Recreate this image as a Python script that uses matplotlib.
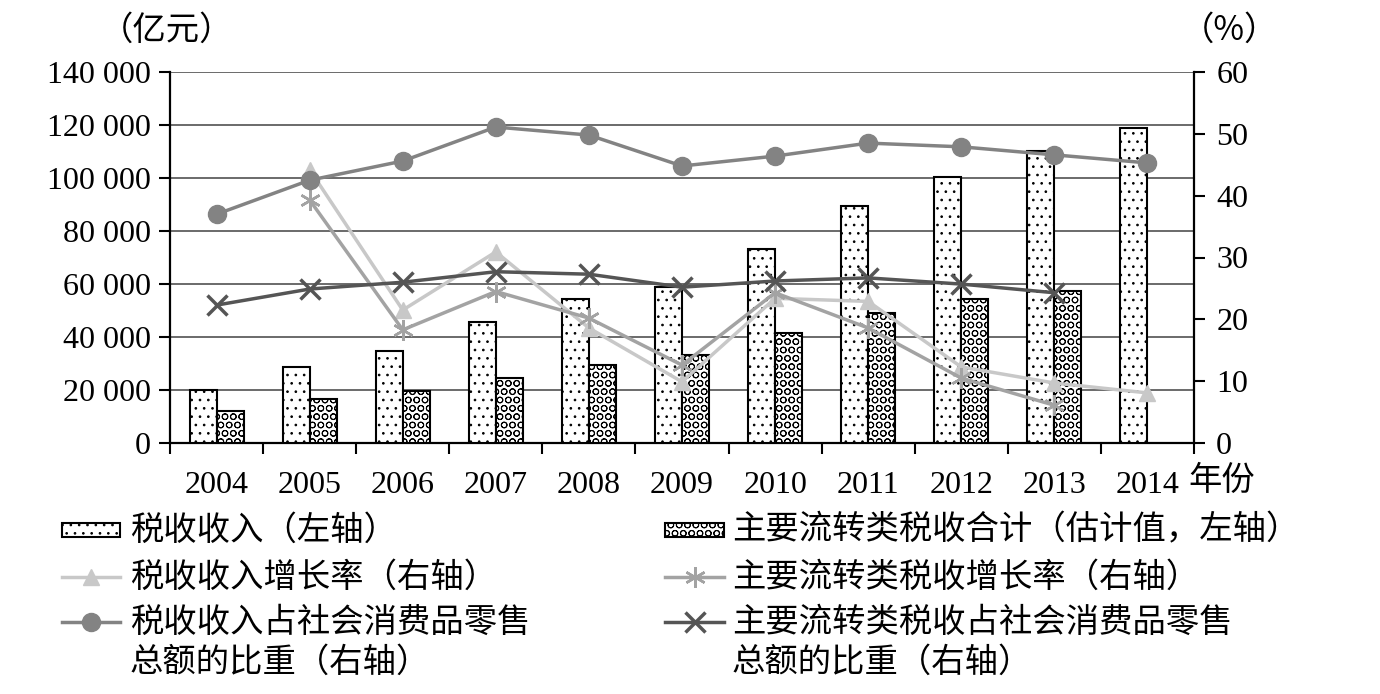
import matplotlib
matplotlib.use("Agg")
import matplotlib.pyplot as plt
from matplotlib.lines import Line2D
from matplotlib.patches import Rectangle
from matplotlib.ticker import FuncFormatter, MultipleLocator
import numpy as np

years = ["2004", "2005", "2006", "2007", "2008", "2009", "2010", "2011", "2012", "2013", "2014"]
tax_revenue = [20000, 28700, 34700, 45700, 54300, 59000, 73200, 89500, 100400, 110200, 118900]
flow_tax = [12000, 16600, 19600, 24500, 29400, 33200, 41500, 49200, 54300, 57500, None]
tax_growth = [None, 44.2, 21.5, 30.9, 18.6, 9.9, 23.4, 22.9, 12.3, 9.7, 8.1]
flow_growth = [None, 39.3, 18.3, 24.5, 20.2, 12.6, 24.3, 18.6, 10.5, 6.1, None]
tax_share = [37.0, 42.5, 45.6, 51.1, 49.8, 44.8, 46.4, 48.5, 47.9, 46.6, 45.3]
flow_share = [22.3, 24.9, 26.0, 27.7, 27.3, 25.2, 26.2, 26.7, 25.7, 24.3, None]

labels = ["税收收入（左轴）", "主要流转类税收合计（估计值，左轴）",
          "税收收入增长率（右轴）", "主要流转类税收增长率（右轴）",
          "税收收入占社会消费品零售\n总额的比重（右轴）", "主要流转类税收占社会消费品零售\n总额的比重（右轴）"]

serif = ["Liberation Serif", "DejaVu Serif"]
cjk = ["Noto Sans CJK SC", "DejaVu Sans"]
plt.rcParams['hatch.linewidth'] = 0.7

def nz(a):
    return np.array([np.nan if v is None else v for v in a], dtype=float)

fig = plt.figure(figsize=(13.8, 6.94), dpi=100)
ax = fig.add_axes([170/1380, 1-443/694, (1194-170)/1380, (443-72)/694])
x = np.arange(len(years))
w = 0.29

ax.bar(x - w/2, nz(tax_revenue), w, facecolor="white", edgecolor="black", linewidth=1.5, hatch="..", zorder=3)
ax.bar(x[:10] + w/2, nz(flow_tax)[:10], w, facecolor="white", edgecolor="black", linewidth=1.5, hatch="OO", zorder=3)

ax.set_xlim(-0.5, len(years) - 0.5)
ax.set_ylim(0, 140000)
ax.yaxis.set_major_locator(MultipleLocator(20000))
ax.yaxis.set_major_formatter(FuncFormatter(lambda v, p: f"{int(v):,}".replace(",", " ")))
ax.grid(axis="y", color="#5f5f5f", linewidth=1.3, zorder=0)
ax.set_axisbelow(True)
ax.set_xticks(x)
ax.set_xticklabels(years, fontfamily=serif, fontsize=23)
ax.set_xticks(np.arange(-0.5, len(years)), minor=True)
ax.tick_params(axis="x", which="major", length=0, pad=20)
ax.tick_params(axis="x", which="minor", length=8, width=1.5, direction="out")
ax.tick_params(axis="y", length=8, width=1.5, direction="out", pad=6)
for lab in ax.get_yticklabels():
    lab.set_fontfamily(serif)
    lab.set_fontsize(23)
for s in ["left", "bottom"]:
    ax.spines[s].set_linewidth(1.6)
ax.spines["top"].set_visible(False)
ax.spines["right"].set_visible(False)

ax2 = ax.twinx()
ax2.set_ylim(0, 60)
ax2.yaxis.set_major_locator(MultipleLocator(10))
ax2.tick_params(axis="y", length=8, width=1.5, direction="out", pad=8)
for lab in ax2.get_yticklabels():
    lab.set_fontfamily(serif)
    lab.set_fontsize(23)
ax2.spines["right"].set_linewidth(1.6)
for s in ["left", "top", "bottom"]:
    ax2.spines[s].set_visible(False)

lw = 2.5
st_tri = dict(color="#c8c8c8", marker="^", markersize=12, linewidth=lw)
st_star = dict(color="#a3a3a3", marker=(6, 2, 0), markersize=15, markeredgewidth=1.8, linewidth=lw)
st_cross = dict(color="#555555", marker="x", markersize=15, markeredgewidth=2.5, linewidth=lw)
st_circ = dict(color="#838383", marker="o", markersize=13, linewidth=lw)
ax2.plot(x, nz(tax_growth), **st_tri, zorder=3)
ax2.plot(x, nz(flow_growth), **st_star, zorder=4)
ax2.plot(x, nz(flow_share), **st_cross, zorder=5)
ax2.plot(x, nz(tax_share), **st_circ, zorder=6)

fig.text(167/1380, 1-30/694, "（亿元）", family=cjk, fontsize=24, ha="center", va="center")
fig.text(1230/1380, 1-30/694, "（%）", family=cjk, fontsize=24, ha="center", va="center")
fig.text(1188/1380, 1-480/694, "年份", family=cjk, fontsize=24, ha="left", va="center")

# legend overlay in pixel coordinates
lg = fig.add_axes([0, 0, 1, 1], zorder=10)
lg.set_xlim(0, 1380)
lg.set_ylim(694, 0)
lg.axis("off")
lg.patch.set_alpha(0)

cols = [(62, 120, 130), (665, 724, 732)]
rows = [530, 577, 622]
lg.add_patch(Rectangle((cols[0][0], rows[0]-7), cols[0][1]-cols[0][0], 14, facecolor="white",
                       edgecolor="black", linewidth=1.5, hatch=".."))
lg.add_patch(Rectangle((cols[1][0], rows[0]-7), cols[1][1]-cols[1][0], 14, facecolor="white",
                       edgecolor="black", linewidth=1.5, hatch="OO"))
handles = [st_tri, st_star, st_circ, st_cross]
pos = [(0, 1), (1, 1), (0, 2), (1, 2)]
for st, (c, r) in zip(handles, pos):
    x0, x1, _ = cols[c]
    lg.add_line(Line2D([x0, x1], [rows[r], rows[r]], color=st["color"], linewidth=lw))
    kw = {k: v for k, v in st.items() if k not in ("linewidth",)}
    lg.add_line(Line2D([(x0+x1)/2], [rows[r]], linestyle="none", **kw))
for i, lab in enumerate(labels):
    c, r = i % 2, i // 2
    lines = lab.split("\n")
    for j, t in enumerate(lines):
        lg.text(cols[c][2], rows[r] + j*40, t, family=cjk, fontsize=24, ha="left", va="center")

fig.savefig("out.png", dpi=100)
